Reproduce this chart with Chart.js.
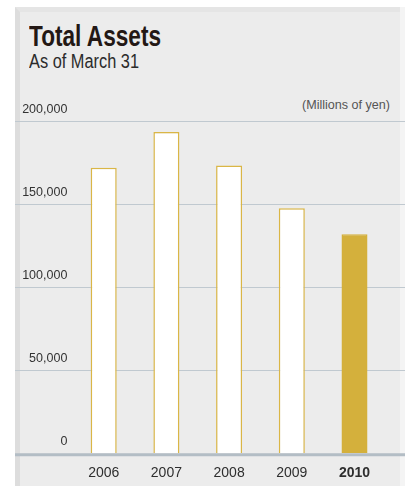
<!DOCTYPE html>
<html>
<head>
<meta charset="utf-8">
<title>Total Assets</title>
<script src="https://cdn.jsdelivr.net/npm/chart.js@4/dist/chart.umd.min.js"></script>
<style>
  body { margin: 0; background: #fff; }
  #wrap { position: relative; width: 405px; height: 486px; overflow: hidden; font-family: "Liberation Sans", Arial, sans-serif; }
  #edge { position: absolute; left: 400px; top: 7px; width: 5px; height: 479px; background: #f4f4f4; }
  #panel { position: absolute; left: 15px; top: 7px; width: 380px; height: 474px; background: #ececec;
           border-left: 5px solid #dddddd; border-top: 5px solid #e5e5e5; }
  .txt { position: absolute; line-height: 1; white-space: nowrap; }
  #title { left: 29px; top: 21.3px; font-size: 30px; font-weight: bold; color: #231815; transform-origin: left center; }
  #sub { left: 29px; top: 50.8px; font-size: 20px; color: #2b2b2b; transform-origin: left center; }
  #unit { right: 15px; top: 98px; font-size: 13px; color: #555; transform-origin: right center; }
  canvas { position: absolute; left: 0; top: 0; }
</style>
</head>
<body>
<div id="wrap">
  <div id="edge"></div>
  <div id="panel"></div>
  <div class="txt" id="title">Total Assets</div>
  <div class="txt" id="sub">As of March 31</div>
  <div class="txt" id="unit">(Millions of yen)</div>
  <canvas id="assetChart" width="405" height="486"></canvas>
</div>
<script>
// fiscal years and total assets (millions of yen)
var years = ['2006', '2007', '2008', '2009', '2010'];
var totalAssets = [172000, 193600, 173300, 147600, 131900];
var yTicks = [0, 50000, 100000, 150000, 200000];

var GOLD = '#d4b03c';
var GOLD_LINE = '#dab646';

// squeeze the heading texts to their column widths
function fitText(id, w) {
  var el = document.getElementById(id);
  el.style.transform = 'scaleX(' + (w / el.getBoundingClientRect().width) + ')';
}
fitText('title', 132);
fitText('sub', 110);
fitText('unit', 88);

// grid lines run across the whole panel, not just the plot area
var panelGrid = {
  id: 'panelGrid',
  beforeDatasetsDraw: function (chart) {
    var ctx = chart.ctx, ys = chart.scales.y;
    ctx.save();
    ctx.strokeStyle = '#c0c9d0';
    ctx.lineWidth = 1;
    ys.ticks.forEach(function (t) {
      if (t.value === 0) return;
      var py = Math.round(ys.getPixelForValue(t.value)) + 0.5;
      ctx.beginPath();
      ctx.moveTo(15, py);
      ctx.lineTo(405, py);
      ctx.stroke();
    });
    ctx.restore();
  },
  afterDatasetsDraw: function (chart) {
    var ctx = chart.ctx, ys = chart.scales.y;
    var py = ys.getPixelForValue(0) + 1.5;
    ctx.save();
    ctx.strokeStyle = '#b3bdc5';
    ctx.lineWidth = 3;
    ctx.beginPath();
    ctx.moveTo(15, py);
    ctx.lineTo(405, py);
    ctx.stroke();
    ctx.restore();
  }
};

Chart.defaults.font.family = "'Liberation Sans', Arial, sans-serif";

new Chart(document.getElementById('assetChart'), {
  type: 'bar',
  data: {
    labels: years,
    datasets: [{
      data: totalAssets,
      backgroundColor: years.map(function (y, i) { return i === years.length - 1 ? GOLD : '#ffffff'; }),
      borderColor: years.map(function (y, i) { return i === years.length - 1 ? GOLD : GOLD_LINE; }),
      borderWidth: 1.5,
      borderSkipped: 'start',
      categoryPercentage: 1,
      barPercentage: 0.415
    }]
  },
  options: {
    responsive: false,
    devicePixelRatio: 1,
    animation: false,
    layout: { padding: { left: 0, right: 19.15, top: 121.3, bottom: 0 } },
    plugins: { legend: { display: false }, tooltip: { enabled: false } },
    scales: {
      x: {
        grid: { display: false, drawTicks: false },
        border: { display: false },
        afterFit: function (s) { s.height = 32.7; },
        ticks: {
          padding: 11.5,
          color: '#2e2e2e',
          font: function (c) { return { size: 14, weight: c.index === years.length - 1 ? 'bold' : 'normal' }; }
        }
      },
      y: {
        min: 0,
        max: 200000,
        afterFit: function (s) { s.width = 72.35; },
        afterBuildTicks: function (s) { s.ticks = yTicks.map(function (v) { return { value: v }; }); },
        grid: { display: false, drawTicks: false },
        border: { display: false },
        ticks: {
          padding: 5,
          labelOffset: -12,
          color: '#333',
          font: { size: 12.5 },
          callback: function (v) { return v.toLocaleString('en-US'); }
        }
      }
    }
  },
  plugins: [panelGrid]
});
</script>
</body>
</html>
